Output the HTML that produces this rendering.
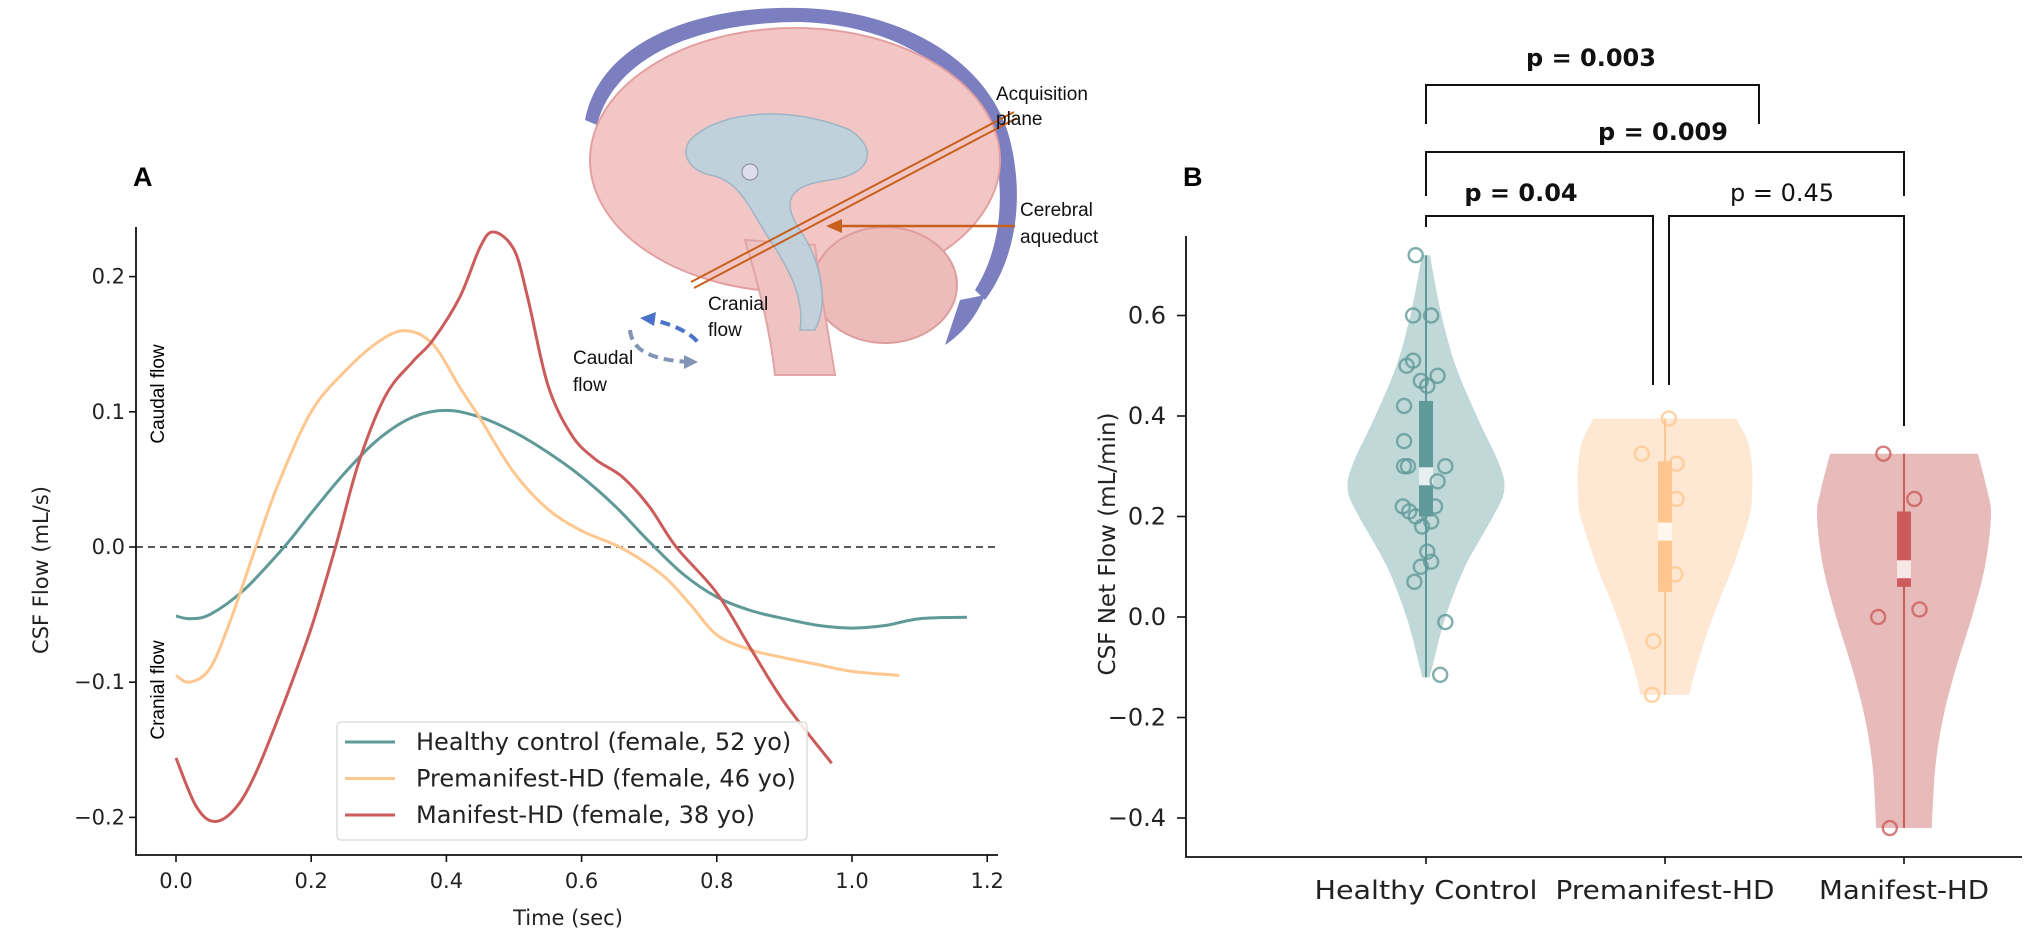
<!DOCTYPE html>
<html><head><meta charset="utf-8"><style>
html,body{margin:0;padding:0;background:#fff;}
svg{display:block;font-family:"DejaVu Sans","Liberation Sans",sans-serif;}
.arial{font-family:"Liberation Sans",Arial,sans-serif;}
</style></head><body>
<svg id="fig" width="2025" height="935" viewBox="0 0 2025 935" xmlns="http://www.w3.org/2000/svg">
<g id="brain">
  <path d="M585,120 C600,40 700,5 800,8 C900,10 990,60 1010,140 C1025,200 1015,260 985,300 L975,290 C1000,250 1005,200 995,150 C975,75 900,25 800,22 C700,22 615,55 597,125 Z" fill="#7b7fc0"/>
  <path d="M985,295 C975,320 960,335 945,345 L960,300 Z" fill="#7b7fc0"/>
  <ellipse cx="795" cy="160" rx="205" ry="132" fill="#f3c6c6" stroke="#e3a0a0" stroke-width="2"/>
  <ellipse cx="885" cy="285" rx="72" ry="58" fill="#eebbbb" stroke="#dc9d9d" stroke-width="2"/>
  <path d="M745,240 C760,290 770,330 775,375 L835,375 C828,330 820,290 815,245 Z" fill="#f0c3c3" stroke="#e0a5a5" stroke-width="2"/>
  <path d="M690,140 C720,110 790,105 850,130 C880,150 870,175 830,180 C790,185 780,200 800,230 C820,260 830,300 815,330 L800,330 C805,300 790,270 770,240 C750,210 740,180 710,175 C690,170 680,155 690,140 Z" fill="#b9d3df" opacity="0.85" stroke="#8fb3c6" stroke-width="1.5"/>
  <circle cx="750" cy="172" r="8" fill="#dde" stroke="#889" stroke-width="1"/>
  <line x1="691" y1="282" x2="1014" y2="112" stroke="#c8601d" stroke-width="2"/>
  <line x1="694" y1="288" x2="1017" y2="118" stroke="#c8601d" stroke-width="2"/>
  <line x1="1015" y1="226" x2="832" y2="226" stroke="#c8601d" stroke-width="2.5"/>
  <polygon points="826,226 842,219 842,233" fill="#c8601d"/>
  <path d="M645,318 C665,322 690,330 700,345" fill="none" stroke="#4a72c8" stroke-width="4" stroke-dasharray="10,6"/>
  <polygon points="640,318 656,312 654,326" fill="#4a72c8"/>
  <path d="M630,330 C632,350 650,360 690,362" fill="none" stroke="#8395b4" stroke-width="4" stroke-dasharray="10,6"/>
  <polygon points="698,362 684,355 684,369" fill="#8395b4"/>
  <text class="arial" x="996" y="100" font-size="19" fill="#111">Acquisition</text>
  <text class="arial" x="996" y="125" font-size="19" fill="#111">plane</text>
  <text class="arial" x="1020" y="216" font-size="19" fill="#111">Cerebral</text>
  <text class="arial" x="1020" y="243" font-size="19" fill="#111">aqueduct</text>
  <text class="arial" x="708" y="310" font-size="19" fill="#111">Cranial</text>
  <text class="arial" x="708" y="336" font-size="19" fill="#111">flow</text>
  <text class="arial" x="573" y="364" font-size="19" fill="#111">Caudal</text>
  <text class="arial" x="573" y="391" font-size="19" fill="#111">flow</text>
</g>
<g id="panelA"></g>
<g id="panelB"></g>
</svg>
<script>
// ---------- Panel A data ----------
const tHealthy = [0,0.02,0.05,0.1,0.16,0.2,0.25,0.3,0.35,0.4,0.45,0.5,0.55,0.6,0.65,0.7,0.75,0.8,0.85,0.9,0.95,1.0,1.05,1.1,1.17];
const vHealthy = [-0.051,-0.053,-0.050,-0.032,0.0,0.025,0.055,0.080,0.096,0.101,0.096,0.085,0.070,0.052,0.030,0.004,-0.020,-0.037,-0.047,-0.053,-0.058,-0.060,-0.058,-0.053,-0.052];
const tPre = [0,0.02,0.05,0.08,0.118,0.15,0.2,0.25,0.3,0.34,0.38,0.42,0.45,0.5,0.55,0.6,0.66,0.72,0.76,0.8,0.85,0.9,0.95,1.0,1.07];
const vPre = [-0.095,-0.100,-0.090,-0.055,0.0,0.045,0.100,0.130,0.152,0.160,0.150,0.118,0.095,0.055,0.028,0.012,-0.001,-0.021,-0.042,-0.065,-0.076,-0.082,-0.087,-0.092,-0.095];
const tMan = [0,0.03,0.058,0.09,0.12,0.16,0.2,0.236,0.27,0.31,0.35,0.38,0.42,0.45,0.47,0.5,0.52,0.55,0.585,0.62,0.66,0.7,0.74,0.8,0.85,0.9,0.97];
const vMan = [-0.156,-0.192,-0.203,-0.192,-0.165,-0.115,-0.060,0.0,0.062,0.112,0.137,0.153,0.185,0.222,0.233,0.220,0.185,0.120,0.083,0.065,0.052,0.030,0.0,-0.034,-0.075,-0.115,-0.160];
const xTicksA = [0,0.2,0.4,0.6,0.8,1.0,1.2];
const xTickLabelsA = ["0.0","0.2","0.4","0.6","0.8","1.0","1.2"];
const yTicksA = [-0.2,-0.1,0,0.1,0.2];
const yTickLabelsA = ["\u22120.2","\u22120.1","0.0","0.1","0.2"];
const legendLabelsA = ["Healthy control (female, 52 yo)","Premanifest-HD (female, 46 yo)","Manifest-HD (female, 38 yo)"];

// ---------- Panel B data ----------
const categoriesB = ["Healthy Control","Premanifest-HD","Manifest-HD"];
const categoryWidthsB = [223,219,170];
const yTicksB = [-0.4,-0.2,0,0.2,0.4,0.6];
const yTickLabelsB = ["\u22120.4","\u22120.2","0.0","0.2","0.4","0.6"];
const violinLevels0 = [0.72,0.6,0.5,0.4,0.3,0.25,0.2,0.1,0.0,-0.1,-0.12];
const violinWidths0 = [0.05,0.2,0.38,0.65,0.95,1.0,0.86,0.5,0.25,0.08,0.05];
const violinLevels1 = [0.395,0.35,0.3,0.25,0.2,0.1,0.0,-0.1,-0.155];
const violinWidths1 = [0.82,0.95,1.0,1.0,0.97,0.78,0.55,0.36,0.28];
const violinLevels2 = [0.325,0.25,0.2,0.1,0.0,-0.1,-0.2,-0.3,-0.42];
const violinWidths2 = [0.85,0.96,1.0,0.93,0.78,0.6,0.45,0.36,0.32];
const q1B = [0.20,0.05,0.06];
const q3B = [0.43,0.31,0.21];
const medianB = [0.28,0.17,0.095];
const whiskerLoB = [-0.12,-0.155,-0.42];
const whiskerHiB = [0.72,0.395,0.325];
const points0 = [0.72,0.6,0.6,0.5,0.51,0.47,0.48,0.46,0.42,0.35,0.30,0.30,0.27,0.30,0.22,0.21,0.22,0.20,0.19,0.18,0.13,0.11,0.10,0.07,-0.01,-0.115];
const jitter0 = [-8,-10,4,-15,-10,-4,9,1,-17,-17,-14,15,9,-17,-18,-13,7,-8,4,-3,1,4,-4,-9,15,11];
const points1 = [0.395,0.325,0.305,0.235,0.085,-0.048,-0.155];
const jitter1 = [3,-18,9,9,8,-9,-10];
const points2 = [0.325,0.235,0.015,0.0,-0.42];
const jitter2 = [-16,8,12,-20,-11];
const pLabels = ["p = 0.003","p = 0.009","p = 0.04","p = 0.45"];

const NS="http://www.w3.org/2000/svg";
function mk(parent,tag,attrs,text){const e=document.createElementNS(NS,tag);for(const k in attrs)e.setAttribute(k,attrs[k]);if(text!==undefined)e.textContent=text;parent.appendChild(e);return e;}
function smooth(pts){let d="M"+pts[0][0].toFixed(1)+","+pts[0][1].toFixed(1);for(let i=0;i<pts.length-1;i++){const p0=pts[i-1]||pts[i],p1=pts[i],p2=pts[i+1],p3=pts[i+2]||p2;const c1=[p1[0]+(p2[0]-p0[0])/6,p1[1]+(p2[1]-p0[1])/6],c2=[p2[0]-(p3[0]-p1[0])/6,p2[1]-(p3[1]-p1[1])/6];d+=" C"+c1[0].toFixed(1)+","+c1[1].toFixed(1)+" "+c2[0].toFixed(1)+","+c2[1].toFixed(1)+" "+p2[0].toFixed(1)+","+p2[1].toFixed(1);}return d;}

// ---------- Panel A ----------
const A=document.getElementById("panelA");


const xA=t=>176+t*676, yA=v=>547-v*1352;
let e;
e=mk(A,"text",{x:133,y:186,"font-size":27,"font-weight":"bold","font-family":"Liberation Sans, sans-serif"},"A");


e=mk(A,"line",{x1:xA(0)-40,y1:yA(0),x2:998,y2:yA(0),stroke:"#222","stroke-width":1.6,"stroke-dasharray":"7,5"});


const serA=[[tHealthy,vHealthy,"#5f9a98","healthy-control-line"],[tPre,vPre,"#fec78f","premanifest-hd-line"],[tMan,vMan,"#cc5c5c","manifest-hd-line"]];
serA.forEach(s=>{const pts=s[0].map((t,i)=>[xA(t),yA(s[1][i])]);const p=mk(A,"path",{d:smooth(pts),fill:"none",stroke:s[2],"stroke-width":3});

});
e=mk(A,"path",{d:"M136,227 V855 H998",fill:"none",stroke:"#111","stroke-width":1.8});


xTicksA.forEach((t,i)=>{mk(A,"line",{x1:xA(t),y1:855,x2:xA(t),y2:862,stroke:"#111","stroke-width":1.6});
const tx=mk(A,"text",{x:xA(t),y:888,"font-size":21,"text-anchor":"middle",fill:"#222"},xTickLabelsA[i]);

});
yTicksA.forEach((v,i)=>{mk(A,"line",{x1:129,y1:yA(v),x2:136,y2:yA(v),stroke:"#111","stroke-width":1.6});
const tx=mk(A,"text",{x:125,y:yA(v)+7,"font-size":21,"text-anchor":"end",fill:"#222"},yTickLabelsA[i]);

});
e=mk(A,"text",{x:568,y:925,"font-size":21,"text-anchor":"middle",fill:"#222"},"Time (sec)");


e=mk(A,"text",{x:0,y:0,"font-size":21,"text-anchor":"middle",fill:"#222",transform:"translate(48,570) rotate(-90)"},"CSF Flow (mL/s)");


e=mk(A,"text",{x:0,y:0,"font-size":19,"text-anchor":"middle",fill:"#000","font-family":"Liberation Sans, sans-serif",transform:"translate(164,394) rotate(-90)"},"Caudal flow");


e=mk(A,"text",{x:0,y:0,"font-size":19,"text-anchor":"middle",fill:"#000","font-family":"Liberation Sans, sans-serif",transform:"translate(164,690) rotate(-90)"},"Cranial flow");


const lg=mk(A,"g",{});


mk(lg,"rect",{x:337,y:722,width:470,height:118,rx:4,fill:"#fff","fill-opacity":0.85,stroke:"#ddd","stroke-width":1.5});
legendLabelsA.forEach((lab,i)=>{const y=742+i*36.5;mk(lg,"line",{x1:345,y1:y,x2:395,y2:y,stroke:serA[i][2],"stroke-width":3});
const tx=mk(lg,"text",{x:416,y:y+8,"font-size":24,fill:"#222"},lab);

});

// ---------- Panel B ----------
const B=document.getElementById("panelB");


const xB=i=>1426+i*239, yB=v=>617-v*502.5;
const colB=["#5f9a98","#fec78f","#cc5c5c"], fillB=["#c0d8d7","#fee8d3","#e8bbbb"], maxHalf=[78,87,87];
const levels=[violinLevels0,violinLevels1,violinLevels2], widths=[violinWidths0,violinWidths1,violinWidths2];
const pts=[points0,points1,points2], jit=[jitter0,jitter1,jitter2];
e=mk(B,"text",{x:1183,y:186,"font-size":27,"font-weight":"bold","font-family":"Liberation Sans, sans-serif"},"B");


categoriesB.forEach((c,i)=>{const cx=xB(i);
const R=levels[i].map((v,k)=>[cx+widths[i][k]*maxHalf[i],yB(v)]);
const L=levels[i].map((v,k)=>[cx-widths[i][k]*maxHalf[i],yB(v)]).reverse();
let d=smooth(R).replace("M","M"+cx+","+yB(levels[i][0])+" L");d+=" L"+cx+","+yB(levels[i][levels[i].length-1])+" L"+smooth(L).slice(1)+" Z";
const vi=mk(B,"path",{d:d,fill:fillB[i],stroke:"none"});


mk(B,"line",{x1:cx,y1:yB(whiskerLoB[i]),x2:cx,y2:yB(whiskerHiB[i]),stroke:colB[i],"stroke-width":2});
const bx=mk(B,"rect",{x:cx-7,y:yB(q3B[i]),width:14,height:yB(q1B[i])-yB(q3B[i]),fill:colB[i]});


mk(B,"rect",{x:cx-7,y:yB(medianB[i])-9,width:14,height:18,fill:"#fff","fill-opacity":0.85});
pts[i].forEach((v,k)=>{const p=mk(B,"circle",{cx:cx+jit[i][k]*1.29,cy:yB(v),r:7,fill:"none",stroke:colB[i],"stroke-width":2.4,"stroke-opacity":0.8});

});
mk(B,"line",{x1:cx,y1:857,x2:cx,y2:864,stroke:"#111","stroke-width":1.6});
const tx=mk(B,"text",{x:cx,y:899,"font-size":26,"text-anchor":"middle",fill:"#222",textLength:categoryWidthsB[i],lengthAdjust:"spacingAndGlyphs"},c);

});
e=mk(B,"path",{d:"M1186,236 V857 H2022",fill:"none",stroke:"#111","stroke-width":1.8});


yTicksB.forEach((v,i)=>{mk(B,"line",{x1:1177,y1:yB(v),x2:1186,y2:yB(v),stroke:"#111","stroke-width":1.6});
const tx=mk(B,"text",{x:1166,y:yB(v)+8,"font-size":24,"text-anchor":"end",fill:"#222"},yTickLabelsB[i]);

});
e=mk(B,"text",{x:0,y:0,"font-size":23,"text-anchor":"middle",fill:"#222",transform:"translate(1115,544) rotate(-90)"},"CSF Net Flow (mL/min)");


const br=[[xB(0),1759,85,124,124,1591,66,true],[xB(0),xB(2),152,196,196,1663,140,true],[xB(0),1653,216,227,385,1521,201,true],[1669,xB(2),216,385,426,1782,201,false]];
br.forEach((b,i)=>{const g=mk(B,"path",{d:"M"+b[0]+","+b[3]+" V"+b[2]+" H"+b[1]+" V"+b[4],fill:"none",stroke:"#111","stroke-width":2});


const t=mk(B,"text",{x:b[5],y:b[6],"font-size":24,"text-anchor":"middle","font-weight":b[7]?"bold":"normal",fill:"#111"},pLabels[i]);

});
</script>
</body></html>
